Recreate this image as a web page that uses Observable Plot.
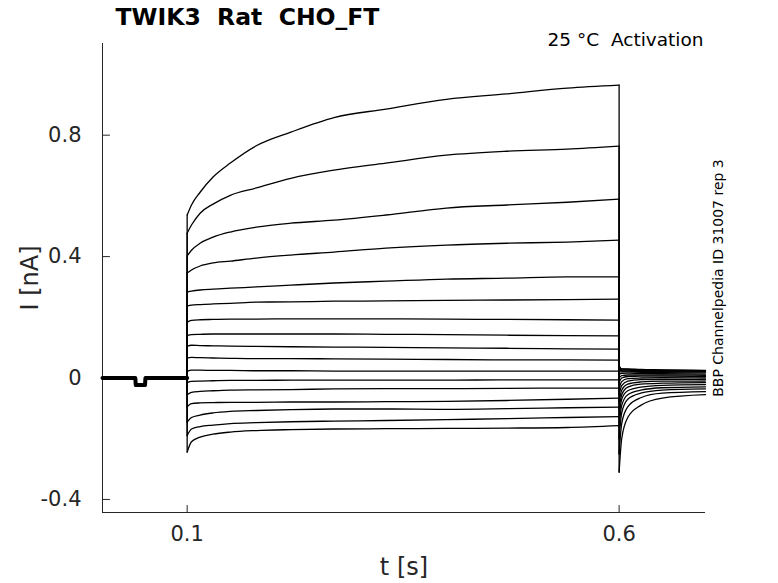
<!DOCTYPE html>
<html><head><meta charset="utf-8">
<script src="https://cdn.jsdelivr.net/npm/d3@7"></script>
<script src="https://cdn.jsdelivr.net/npm/@observablehq/plot@0.6"></script>
<style>body{margin:0;background:#fff;}</style>
</head><body><div id="chart"></div>
<script>
const xDomain = [0.002, 0.7];
const yDomain = [-0.443, 1.102];
const xTicks = [0.1, 0.6];
const yTicks = [-0.4, 0, 0.4, 0.8];

const titleText = "TWIK3  Rat  CHO_FT";
const conditionText = "25 °C  Activation";
const sideText = "BBP Channelpedia ID 31007 rep 3";

// holding period before the step (all traces overlap here)
const baseTimes = [0.002, 0.0400, 0.0405, 0.0512, 0.0517, 0.1];
const baseCurrents = [0, 0, -0.023, -0.023, 0, 0];

// activation step, one row per trace (nA)
const stepTimes = [0.1, 0.105, 0.115, 0.13, 0.15, 0.18, 0.22, 0.27, 0.33, 0.4, 0.47, 0.54, 0.6];
const stepCurrents = [
  [0.537, 0.570, 0.612, 0.662, 0.708, 0.765, 0.810, 0.858, 0.886, 0.918, 0.936, 0.955, 0.965],
  [0.477, 0.504, 0.543, 0.573, 0.602, 0.626, 0.658, 0.685, 0.708, 0.734, 0.747, 0.754, 0.764],
  [0.402, 0.421, 0.444, 0.464, 0.481, 0.497, 0.510, 0.520, 0.537, 0.560, 0.570, 0.579, 0.589],
  [0.346, 0.356, 0.369, 0.379, 0.385, 0.395, 0.405, 0.415, 0.428, 0.438, 0.444, 0.448, 0.454],
  [0.283, 0.286, 0.290, 0.293, 0.296, 0.300, 0.306, 0.313, 0.319, 0.326, 0.329, 0.333, 0.333],
  [0.237, 0.240, 0.242, 0.244, 0.246, 0.250, 0.251, 0.253, 0.254, 0.256, 0.257, 0.258, 0.260],
  [0.184, 0.190, 0.192, 0.193, 0.194, 0.194, 0.195, 0.195, 0.195, 0.194, 0.193, 0.192, 0.191],
  [0.140, 0.143, 0.144, 0.145, 0.145, 0.145, 0.145, 0.145, 0.144, 0.143, 0.141, 0.140, 0.139],
  [0.105, 0.108, 0.107, 0.106, 0.105, 0.104, 0.103, 0.102, 0.101, 0.099, 0.098, 0.096, 0.095],
  [0.066, 0.068, 0.067, 0.066, 0.065, 0.064, 0.064, 0.063, 0.062, 0.061, 0.060, 0.060, 0.059],
  [0.022, 0.026, 0.026, 0.025, 0.025, 0.024, 0.024, 0.023, 0.023, 0.023, 0.023, 0.023, 0.023],
  [-0.015, -0.011, -0.010, -0.009, -0.008, -0.008, -0.007, -0.007, -0.007, -0.007, -0.006, -0.006, -0.006],
  [-0.055, -0.047, -0.044, -0.042, -0.040, -0.039, -0.038, -0.036, -0.035, -0.035, -0.034, -0.033, -0.033],
  [-0.095, -0.084, -0.082, -0.081, -0.080, -0.080, -0.079, -0.079, -0.078, -0.077, -0.074, -0.070, -0.066],
  [-0.145, -0.130, -0.122, -0.115, -0.110, -0.107, -0.104, -0.102, -0.102, -0.103, -0.101, -0.098, -0.096],
  [-0.190, -0.168, -0.160, -0.155, -0.150, -0.147, -0.144, -0.142, -0.140, -0.137, -0.134, -0.130, -0.127],
  [-0.244, -0.210, -0.195, -0.185, -0.178, -0.173, -0.170, -0.168, -0.167, -0.166, -0.165, -0.163, -0.157]
];

// tail currents after the step
const tailTimes = [0.6, 0.603, 0.61, 0.625, 0.65, 0.7];
const tailCurrents = [
  [0.040, 0.030, 0.030, 0.028, 0.027, 0.025],
  [0.035, 0.030, 0.028, 0.027, 0.026, 0.024],
  [0.030, 0.027, 0.026, 0.025, 0.024, 0.022],
  [0.025, 0.024, 0.023, 0.022, 0.021, 0.020],
  [0.020, 0.020, 0.020, 0.019, 0.018, 0.017],
  [0.012, 0.015, 0.016, 0.015, 0.014, 0.013],
  [0.000, 0.008, 0.010, 0.010, 0.010, 0.009],
  [-0.015, 0.000, 0.005, 0.006, 0.006, 0.005],
  [-0.035, -0.012, -0.002, 0.000, 0.001, 0.000],
  [-0.055, -0.025, -0.010, -0.005, -0.004, -0.005],
  [-0.080, -0.040, -0.020, -0.013, -0.010, -0.010],
  [-0.100, -0.055, -0.030, -0.020, -0.017, -0.015],
  [-0.130, -0.070, -0.042, -0.030, -0.024, -0.022],
  [-0.160, -0.090, -0.055, -0.040, -0.032, -0.029],
  [-0.200, -0.115, -0.070, -0.050, -0.040, -0.036],
  [-0.250, -0.150, -0.095, -0.065, -0.050, -0.045],
  [-0.310, -0.200, -0.130, -0.090, -0.066, -0.055]
];

const stepRows = [], tailRows = [], jumpRows = [];
const lastStep = stepTimes.length - 1;
stepCurrents.forEach((trace, k) => {
  stepTimes.forEach((t, i) => stepRows.push({trace: k, t, I: trace[i]}));
  tailTimes.forEach((t, i) => tailRows.push({trace: k, t, I: tailCurrents[k][i]}));
  jumpRows.push({trace: "on" + k, t: stepTimes[0], I: baseCurrents[baseCurrents.length - 1]});
  jumpRows.push({trace: "on" + k, t: stepTimes[0], I: trace[0]});
  jumpRows.push({trace: "off" + k, t: tailTimes[0], I: trace[lastStep]});
  jumpRows.push({trace: "off" + k, t: tailTimes[0], I: tailCurrents[k][0]});
});
const baseRows = baseTimes.map((t, i) => ({t, I: baseCurrents[i]}));

const axisColor = "#262626";
const tickShape = {draw(context, l) { context.moveTo(0, 0); context.lineTo(0, -l); }};
const traceStyle = {x: "t", y: "I", z: "trace", stroke: "#000", strokeWidth: 1.3};

const chart = Plot.plot({
  width: 778,
  height: 583,
  marginLeft: 102,
  marginRight: 73,
  marginTop: 43,
  marginBottom: 71,
  style: {fontFamily: "DejaVu Sans", color: axisColor, background: "#fff", overflow: "visible"},
  x: {domain: xDomain},
  y: {domain: yDomain},
  marks: [
    Plot.ruleX([xDomain[0]], {stroke: axisColor, strokeWidth: 1}),
    Plot.ruleY([yDomain[0]], {stroke: axisColor, strokeWidth: 1}),
    Plot.vector(yTicks, {y: d => d, frameAnchor: "left", length: 7, rotate: 90, anchor: "start", shape: tickShape, stroke: axisColor, strokeWidth: 1}),
    Plot.vector(xTicks, {x: d => d, frameAnchor: "bottom", length: 7, rotate: 0, anchor: "start", shape: tickShape, stroke: axisColor, strokeWidth: 1}),
    Plot.axisY(yTicks, {tickSize: 0, tickPadding: 21, fontSize: 21, tickFormat: d => String(d), label: null}),
    Plot.axisX(xTicks, {tickSize: 0, tickPadding: 14, fontSize: 21, tickFormat: d => String(d), label: null}),
    Plot.line(baseRows, {x: "t", y: "I", stroke: "#000", strokeWidth: 4}),
    Plot.line(jumpRows, {...traceStyle, curve: "linear"}),
    Plot.line(stepRows, {...traceStyle, curve: "monotone-x"}),
    Plot.line(tailRows, {...traceStyle, curve: "monotone-x"}),
    Plot.text([titleText], {frameAnchor: "top-left", dx: 13, dy: -26, fontSize: 23.5, fontWeight: "bold", fill: "#000", textAnchor: "start", lineAnchor: "middle"}),
    Plot.text([conditionText], {frameAnchor: "top-right", dx: -2, dy: -3, fontSize: 18.5, fill: "#000", textAnchor: "end", lineAnchor: "middle"}),
    Plot.text([sideText], {frameAnchor: "right", dx: 13, rotate: -90, fontSize: 14, fill: "#000", textAnchor: "middle", lineAnchor: "middle"}),
    Plot.text(["I [nA]"], {frameAnchor: "left", dx: -72, rotate: -90, fontSize: 24, fill: axisColor, textAnchor: "middle", lineAnchor: "middle"}),
    Plot.text(["t [s]"], {frameAnchor: "bottom", dy: 55, fontSize: 24, fill: axisColor, textAnchor: "middle", lineAnchor: "middle"})
  ]
});
document.getElementById("chart").appendChild(chart);
</script>
</body></html>
